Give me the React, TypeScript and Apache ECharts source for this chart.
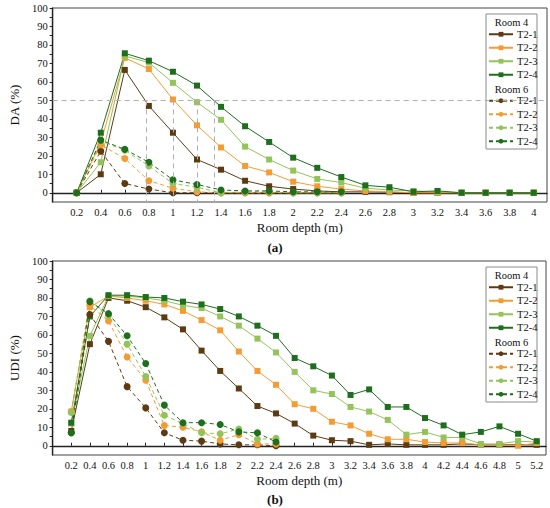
import React, { useEffect, useRef } from "react";
import * as echarts from "echarts";

// ---------- data ----------
const depthRoom4A = [0.2, 0.4, 0.6, 0.8, 1, 1.2, 1.4, 1.6, 1.8, 2, 2.2, 2.4, 2.6, 2.8, 3, 3.2, 3.4, 3.6, 3.8, 4];
const depthRoom4B = [0.2, 0.4, 0.6, 0.8, 1, 1.2, 1.4, 1.6, 1.8, 2, 2.2, 2.4, 2.6, 2.8, 3, 3.2, 3.4, 3.6, 3.8, 4, 4.2, 4.4, 4.6, 4.8, 5, 5.2];
const depthRoom6 = [0.2, 0.4, 0.6, 0.8, 1, 1.2, 1.4, 1.6, 1.8, 2, 2.2, 2.4];

const caseNames = ["T2-1", "T2-2", "T2-3", "T2-4"];

// DA (%) – Room 4
const daR4T1 = [0, 10, 66.5, 47, 32.5, 18, 12.5, 6.5, 3.5, 2, 1, 0.5, 0.5, 0.3, 0, 0, 0, 0, 0, 0];
const daR4T2 = [0, 27, 73, 67, 50.5, 36.5, 24.5, 14.5, 11, 6, 3.5, 2, 1, 0.5, 0, 0, 0, 0, 0, 0];
const daR4T3 = [0, 16.5, 74, 70.5, 59.5, 49, 39.5, 25, 18, 12, 7.5, 5.5, 2.5, 1.5, 1, 0.5, 0, 0, 0, 0];
const daR4T4 = [0, 32.5, 75.5, 71.5, 65.5, 58, 46.5, 36, 27.5, 19, 13.5, 8.5, 4, 3, 0.5, 1, 0, 0, 0, 0];
// DA (%) – Room 6
const daR6T1 = [0, 22.5, 5, 2, 0, 0, 0, 0, 0, 0, 0, 0];
const daR6T2 = [0, 26, 18.5, 6.5, 2.5, 0.5, 0, 0, 0, 0, 0, 0];
const daR6T3 = [0, 28, 23, 14.5, 5, 3, 0, 0.5, 0.5, 0, 0, 0];
const daR6T4 = [0, 28.5, 23.5, 16.5, 7, 4.5, 1.5, 1, 1, 0.5, 0.5, 0.5];

// UDI (%) – Room 4
const udiR4T1 = [8, 55, 80, 78.5, 75, 69.5, 63, 51.5, 40.5, 31, 21.5, 17.5, 12, 5.5, 3, 2.5, 0.5, 1, 0.5, 0.5, 0.5, 1, 0.5, 0.5, 0.5, 0.5];
const udiR4T2 = [18.5, 75, 81, 80, 78.5, 76.5, 73, 68, 62.5, 51, 40.5, 33, 22.5, 20, 13, 11, 6.5, 3.5, 3.5, 2, 1.5, 1.5, 0.5, 0.5, 0, 1.5];
const udiR4T3 = [12, 59.5, 81, 81, 80, 78.5, 76, 74.5, 70, 65, 58, 50.5, 40, 30, 28, 21, 18.5, 14, 6, 7.5, 4.5, 4.5, 1, 1, 2.5, 2];
const udiR4T4 = [12.5, 70, 81.5, 81.5, 80.5, 80, 78, 76.5, 74, 70, 65, 59.5, 47.5, 43, 38, 27.5, 30.5, 21, 21, 15, 11, 6, 7.5, 10.5, 6.5, 2.5];
// UDI (%) – Room 6
const udiR6T1 = [7, 71, 56.5, 32, 20.5, 7, 3, 2.5, 1, 0.5, 0.5, 0];
const udiR6T2 = [18.5, 76, 67.5, 48, 35.5, 11, 10, 7.5, 3, 6, 1, 1];
const udiR6T3 = [18, 78.5, 70.5, 55, 37.5, 16.5, 12, 7, 6.5, 9, 3.5, 4];
const udiR6T4 = [7, 78, 71.5, 59.5, 44.5, 22, 12.5, 12.5, 11.5, 7.5, 7, 2];

// depths where DA curves cross 50 %
const daThreshold = 50;
const daCrossDepths = [0.775, 1.0, 1.2, 1.345];

// tick labels
const yLabelValues = [0, 10, 20, 30, 40, 50, 60, 70, 80, 90, 100];
const yTickValues = [0, 5, 10, 15, 20, 25, 30, 35, 40, 45, 50, 55, 60, 65, 70, 75, 80, 85, 90, 95, 100];

const colors = ["#5c3b12", "#f39c33", "#93c35a", "#1e6e1e"];

const FONT = "'Liberation Serif', 'Times New Roman', serif";

function pairs(xs: number[], ys: number[]) {
  return xs.map((x, i) => [x, ys[i]]);
}

export default function App() {
  const ref = useRef<HTMLDivElement>(null);

  useEffect(() => {
    if (!ref.current) return;
    const chart = echarts.init(ref.current, undefined, { renderer: "svg" });

    const r4Names = caseNames.map((n) => "R4 " + n);
    const r6Names = caseNames.map((n) => "R6 " + n);

    const mkSeries = (
      name: string,
      data: number[][],
      color: string,
      room6: boolean,
      axis: number
    ) => ({
      type: "line",
      name,
      data,
      xAxisIndex: axis,
      yAxisIndex: axis,
      color,
      symbol: room6 ? "circle" : "rect",
      symbolSize: room6 ? 7 : 6,
      lineStyle: { width: 1, color, type: room6 ? [4, 3] : "solid" },
      itemStyle: { color },
      emphasis: { disabled: true },
    });

    const daR4 = [daR4T1, daR4T2, daR4T3, daR4T4];
    const daR6 = [daR6T1, daR6T2, daR6T3, daR6T4];
    const udiR4 = [udiR4T1, udiR4T2, udiR4T3, udiR4T4];
    const udiR6 = [udiR6T1, udiR6T2, udiR6T3, udiR6T4];

    const series: any[] = [
      {
        type: "line",
        name: "ref",
        data: [],
        xAxisIndex: 0,
        yAxisIndex: 0,
        markLine: {
          silent: true,
          symbol: "none",
          label: { show: false },
          lineStyle: { color: "#b0b0b0", type: [5, 4], width: 1 },
          data: [
            { yAxis: daThreshold },
            ...daCrossDepths.map((d) => [
              { coord: [d, daThreshold] },
              { coord: [d, -5] },
            ]),
          ],
        },
      },
    ];
    daR4.forEach((v, i) => series.push(mkSeries(r4Names[i], pairs(depthRoom4A, v), colors[i], false, 0)));
    daR6.forEach((v, i) => series.push(mkSeries(r6Names[i], pairs(depthRoom6, v), colors[i], true, 0)));
    udiR4.forEach((v, i) => series.push(mkSeries(r4Names[i], pairs(depthRoom4B, v), colors[i], false, 1)));
    udiR6.forEach((v, i) => series.push(mkSeries(r6Names[i], pairs(depthRoom6, v), colors[i], true, 1)));

    const xAxisCommon = (labels: number[], max: number, gridIndex: number) => ({
      type: "value",
      gridIndex,
      min: 0,
      max,
      name: "Room depth (m)",
      nameLocation: "middle",
      nameGap: 19,
      nameTextStyle: { fontFamily: FONT, fontSize: 13, color: "#111" },
      splitLine: { show: false },
      axisLine: { show: true, lineStyle: { color: "#222", width: 1.4 } },
      axisTick: { show: true, inside: true, length: 3, customValues: labels, lineStyle: { color: "#222" } },
      axisLabel: {
        customValues: labels,
        fontFamily: FONT,
        fontSize: 10.5,
        color: "#111",
        margin: 5,
        formatter: (v: number) => String(Number(v.toFixed(1))),
      },
    });

    const yAxisCommon = (name: string, gridIndex: number) => ({
      type: "value",
      gridIndex,
      min: -5,
      max: 100,
      name,
      nameLocation: "middle",
      nameGap: 21,
      nameTextStyle: { fontFamily: FONT, fontSize: 13, color: "#111" },
      splitLine: { show: false },
      axisLine: { show: true, lineStyle: { color: "#222", width: 1.4 } },
      axisTick: { show: true, length: 3, customValues: yTickValues, lineStyle: { color: "#222" } },
      axisLabel: {
        customValues: yLabelValues,
        fontFamily: FONT,
        fontSize: 10.5,
        color: "#111",
        margin: 5,
      },
    });

    const legendCommon = (data: string[], top: number) => ({
      orient: "vertical",
      left: 488,
      top,
      data,
      itemWidth: 24,
      itemHeight: 6,
      itemGap: 0,
      padding: 0,
      selectedMode: false,
      formatter: (n: string) => n.slice(3),
      textStyle: { fontFamily: FONT, fontSize: 10.5, color: "#111", lineHeight: 13.5, padding: [0, 0, 0, -1] },
    });

    const legendBox = (top: number) => [
      {
        type: "rect",
        z: 3,
        shape: { x: 486, y: top, width: 51, height: 135 },
        style: { fill: "#fff", stroke: "#8a8a8a", lineWidth: 1 },
      },
      {
        type: "text",
        z: 5,
        x: 511.5,
        y: top + 8,
        style: { text: "Room 4", fontFamily: FONT, fontSize: 10.5, fill: "#111", align: "center", verticalAlign: "middle" },
      },
      {
        type: "text",
        z: 5,
        x: 511.5,
        y: top + 75,
        style: { text: "Room 6", fontFamily: FONT, fontSize: 10.5, fill: "#111", align: "center", verticalAlign: "middle" },
      },
    ];

    const option: any = {
      animation: false,
      backgroundColor: "#fff",
      grid: [
        { left: 40, top: 8, width: 507, height: 194, show: true, borderColor: "#444", borderWidth: 1, containLabel: false },
        { left: 40, top: 261, width: 506, height: 194, show: true, borderColor: "#444", borderWidth: 1, containLabel: false },
      ],
      xAxis: [xAxisCommon(depthRoom4A, 4.11, 0), xAxisCommon(depthRoom4B, 5.3, 1)],
      yAxis: [yAxisCommon("DA (%)", 0), yAxisCommon("UDI (%)", 1)],
      legend: [
        legendCommon(r4Names, 27.5),
        legendCommon(r6Names, 94),
        legendCommon(r4Names, 280.5),
        legendCommon(r6Names, 347),
      ],
      graphic: [
        ...legendBox(14),
        ...legendBox(267),
        {
          type: "text",
          x: 275,
          y: 247,
          style: { text: "(a)", fontFamily: FONT, fontSize: 13, fontWeight: "bold", fill: "#111", align: "center", verticalAlign: "middle" },
        },
        {
          type: "text",
          x: 275,
          y: 499,
          style: { text: "(b)", fontFamily: FONT, fontSize: 13, fontWeight: "bold", fill: "#111", align: "center", verticalAlign: "middle" },
        },
      ],
      series,
    };

    chart.setOption(option);
    return () => chart.dispose();
  }, []);

  return (
    <div
      ref={ref}
      style={{ position: "absolute", left: 0, top: 0, width: 550, height: 508 }}
    />
  );
}
